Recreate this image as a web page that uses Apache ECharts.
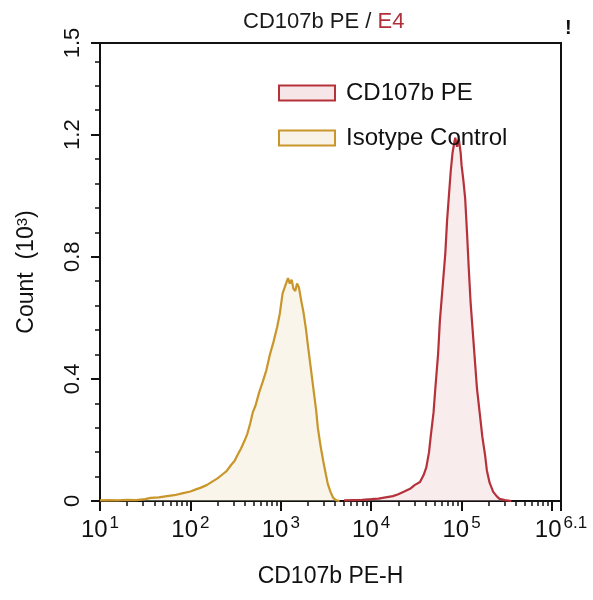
<!DOCTYPE html>
<html>
<head>
<meta charset="utf-8">
<script src="https://cdn.jsdelivr.net/npm/echarts@6/dist/echarts.min.js"></script>
<style>
    html, body { margin: 0; padding: 0; background: #fff; }
    #main { width: 593px; height: 600px; }
</style>
</head>
<body>
<div id="main"></div>
<script>
    // x values are log10 of CD107b PE-H, y values are counts (10^3)
    var isoX = [1.00, 1.10, 1.20, 1.30, 1.40, 1.50, 1.56, 1.65, 1.74, 1.82, 1.92, 2.00, 2.06, 2.11, 2.18,
        2.25, 2.30, 2.35, 2.40, 2.45, 2.49, 2.52, 2.56, 2.60, 2.63, 2.66, 2.69, 2.72, 2.76, 2.80,
        2.84, 2.88, 2.92, 2.96, 2.99, 3.02, 3.05, 3.08, 3.10, 3.12, 3.14, 3.16, 3.18, 3.20, 3.23,
        3.25, 3.28, 3.30, 3.33, 3.36, 3.39, 3.41, 3.44, 3.47, 3.50, 3.52, 3.55, 3.58, 3.61, 3.65];
    var isoY = [0.002, 0.003, 0.002, 0.004, 0.003, 0.006, 0.010, 0.012, 0.016, 0.019, 0.026, 0.031, 0.038, 0.043, 0.052,
        0.065, 0.074, 0.086, 0.098, 0.118, 0.132, 0.150, 0.172, 0.198, 0.220, 0.252, 0.290, 0.312, 0.355, 0.390,
        0.428, 0.480, 0.522, 0.570, 0.615, 0.680, 0.705, 0.730, 0.712, 0.725, 0.695, 0.688, 0.712, 0.700, 0.650,
        0.620, 0.560, 0.510, 0.440, 0.370, 0.300, 0.240, 0.180, 0.130, 0.085, 0.056, 0.030, 0.010, 0.003, 0.000];

    var cdX = [3.70, 3.80, 3.90, 4.00, 4.08, 4.16, 4.24, 4.30, 4.36, 4.43, 4.48, 4.54, 4.58, 4.61, 4.64,
        4.66, 4.69, 4.71, 4.74, 4.76, 4.79, 4.82, 4.84, 4.86, 4.88, 4.90, 4.92, 4.93, 4.95, 4.97,
        4.99, 5.00, 5.02, 5.04, 5.06, 5.08, 5.10, 5.13, 5.15, 5.17, 5.20, 5.23, 5.26, 5.28, 5.31,
        5.35, 5.39, 5.42, 5.48, 5.55];
    var cdY = [0.002, 0.003, 0.004, 0.006, 0.008, 0.012, 0.016, 0.022, 0.030, 0.040, 0.052, 0.062, 0.085, 0.110, 0.160,
        0.215, 0.290, 0.370, 0.480, 0.590, 0.700, 0.810, 0.920, 1.000, 1.080, 1.140, 1.175, 1.190, 1.160, 1.185,
        1.140, 1.100, 1.050, 0.990, 0.880, 0.760, 0.650, 0.530, 0.450, 0.370, 0.290, 0.210, 0.150, 0.100, 0.060,
        0.030, 0.015, 0.007, 0.003, 0.000];

    var seriesNames = ['CD107b PE', 'Isotype Control'];

    // log minor ticks (2..9 x 10^n) and count minor ticks
    var xMinorTicks = [];
    for (var n = 1; n <= 5; n++) {
        for (var k = 2; k <= 9; k++) {
            xMinorTicks.push(n + Math.log10(k));
        }
    }
    var yMinorTicks = [0.08, 0.16, 0.24, 0.32, 0.48, 0.56, 0.64, 0.72, 0.88, 0.96, 1.04, 1.12, 1.28, 1.36, 1.44];

    function pairs(xs, ys) {
        return xs.map(function (x, i) { return [x, ys[i]]; });
    }

    var font = 'Liberation Sans';
    var red = '#b5323b';
    var redFill = 'rgba(236, 200, 204, 0.5)';
    var gold = '#c8962a';
    var goldFill = 'rgba(240, 226, 196, 0.5)';

    var chart = echarts.init(document.getElementById('main'));

    var option = {
        animation: false,
        backgroundColor: '#fff',
        textStyle: { fontFamily: font, color: '#111' },
        title: {
            text: '{a|CD107b PE / }{b|E4}',
            left: 238,
            top: 6,
            textStyle: {
                fontWeight: 'normal',
                rich: {
                    a: { fontFamily: font, fontSize: 22, fontWeight: 'normal', color: '#1a1a1a' },
                    b: { fontFamily: font, fontSize: 22, fontWeight: 'normal', color: '#b0303a' }
                }
            }
        },
        graphic: [{
            type: 'text',
            left: 565,
            top: 18,
            style: { text: '!', fontFamily: font, fontSize: 20, fontWeight: 'bold', fill: '#111' }
        }],
        legend: {
            left: 273,
            top: 76,
            orient: 'vertical',
            itemWidth: 56,
            itemHeight: 15,
            itemGap: 21,
            selectedMode: false,
            icon: 'rect',
            textStyle: { fontFamily: font, fontSize: 24, color: '#111', padding: [0, 0, 0, 6] },
            data: [
                { name: seriesNames[0], itemStyle: { color: '#f6e6e8', borderColor: red, borderWidth: 2 } },
                { name: seriesNames[1], itemStyle: { color: '#f8f3e6', borderColor: gold, borderWidth: 2 } }
            ]
        },
        grid: {
            left: 100,
            right: 32,
            top: 43,
            bottom: 99,
            show: true,
            borderColor: '#111',
            borderWidth: 2
        },
        xAxis: [{
            type: 'value',
            min: 1,
            max: 6.1,
            interval: 1,
            name: 'CD107b PE-H',
            nameLocation: 'middle',
            nameGap: 64,
            nameTextStyle: { fontFamily: font, fontSize: 23, color: '#111' },
            axisLine: { lineStyle: { color: '#111', width: 2 } },
            axisTick: { length: 10, lineStyle: { color: '#111', width: 2 } },
            splitLine: { show: false },
            axisLabel: {
                margin: 14,
                formatter: function (v) {
                    if (Math.abs(v - 6) < 1e-6) return '';
                    var e = Number.isInteger(v) ? String(v) : v.toFixed(1);
                    return '{b|10}{s|' + e + '}';
                },
                rich: {
                    b: { fontFamily: font, fontSize: 24, color: '#111', lineHeight: 30 },
                    s: { fontFamily: font, fontSize: 17, color: '#111', verticalAlign: 'top', lineHeight: 16, padding: [0, 0, 0, 2] }
                }
            }
        }, {
            type: 'value',
            min: 1,
            max: 6.1,
            position: 'bottom',
            axisLine: { show: false },
            axisLabel: { show: false },
            splitLine: { show: false },
            axisTick: { length: 5, customValues: xMinorTicks, lineStyle: { color: '#111', width: 1.5 } }
        }],
        yAxis: [{
            type: 'value',
            min: 0,
            max: 1.5,
            interval: 0.4,
            name: 'Count  (10{s|3})',
            nameLocation: 'middle',
            nameGap: 62,
            nameRotate: 90,
            nameTextStyle: {
                fontFamily: font, fontSize: 23, color: '#111',
                rich: {
                    s: { fontFamily: font, fontSize: 15, color: '#111', verticalAlign: 'top', lineHeight: 15 }
                }
            },
            axisLine: { show: true, lineStyle: { color: '#111', width: 2 } },
            axisTick: { show: true, length: 9, lineStyle: { color: '#111', width: 2 } },
            splitLine: { show: false },
            axisLabel: {
                rotate: 90,
                margin: 16,
                fontFamily: font,
                fontSize: 22,
                color: '#111',
                formatter: function (v) { return String(Math.round(v * 10) / 10); }
            }
        }, {
            type: 'value',
            min: 0,
            max: 1.5,
            position: 'left',
            axisLine: { show: false },
            axisLabel: { show: false },
            splitLine: { show: false },
            axisTick: { show: true, length: 5, customValues: yMinorTicks, lineStyle: { color: '#111', width: 1.5 } }
        }],
        series: [{
            name: seriesNames[1],
            type: 'line',
            data: pairs(isoX, isoY),
            showSymbol: false,
            lineStyle: { color: gold, width: 2.2 },
            itemStyle: { color: gold },
            areaStyle: { color: goldFill, origin: 'start' },
            z: 2
        }, {
            name: seriesNames[0],
            type: 'line',
            data: pairs(cdX, cdY),
            showSymbol: false,
            lineStyle: { color: red, width: 2.2 },
            itemStyle: { color: red },
            areaStyle: { color: redFill, origin: 'start' },
            z: 3
        }]
    };

    chart.setOption(option);
    window.addEventListener('resize', chart.resize);
</script>
</body>
</html>
